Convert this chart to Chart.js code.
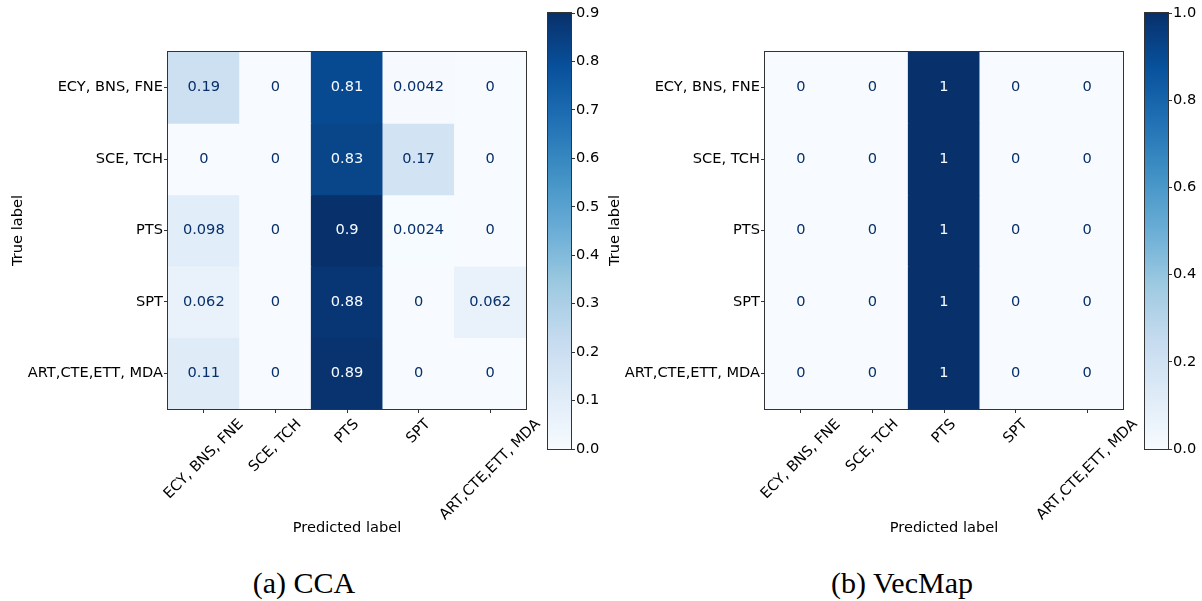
<!DOCTYPE html>
<html>
<head>
<meta charset="utf-8">
<script src="https://cdn.jsdelivr.net/npm/chart.js@4/dist/chart.umd.min.js"></script>
<style>
  html, body { margin: 0; padding: 0; background: #fff; }
  #fig { position: relative; width: 1202px; height: 601px; overflow: hidden; background: #fff; }
  #fig canvas { position: absolute; top: 0; }
  .cap {
    position: absolute; top: 568px; line-height: 30px; font-size: 30px;
    font-family: 'Liberation Serif', 'DejaVu Serif', serif; color: #000;
    transform: translateX(-50%); white-space: nowrap;
  }
</style>
</head>
<body>
<div id="fig">
  <canvas id="cmCca" width="560" height="545" style="left:0px"></canvas>
  <canvas id="cbCca" width="62" height="470" style="left:540px"></canvas>
  <canvas id="cmVecmap" width="560" height="545" style="left:597px"></canvas>
  <canvas id="cbVecmap" width="62" height="470" style="left:1137px"></canvas>
  <div class="cap" style="left:304px">(a) CCA</div>
  <div class="cap" style="left:902px">(b) VecMap</div>
</div>
<script>
// Class labels (same order on both axes)
const predictedLabels = ['ECY, BNS, FNE', 'SCE, TCH', 'PTS', 'SPT', 'ART,CTE,ETT, MDA'];
const trueLabels = ['ECY, BNS, FNE', 'SCE, TCH', 'PTS', 'SPT', 'ART,CTE,ETT, MDA'];

// CCA: normalised confusion matrix, one row per true label
const ccaEcyBnsFne    = [0.19, 0, 0.81, 0.0042, 0];
const ccaSceTch       = [0, 0, 0.83, 0.17, 0];
const ccaPts          = [0.098, 0, 0.9, 0.0024, 0];
const ccaSpt          = [0.062, 0, 0.88, 0, 0.062];
const ccaArtCteEttMda = [0.11, 0, 0.89, 0, 0];

// VecMap: normalised confusion matrix, one row per true label
const vecmapEcyBnsFne    = [0, 0, 1, 0, 0];
const vecmapSceTch       = [0, 0, 1, 0, 0];
const vecmapPts          = [0, 0, 1, 0, 0];
const vecmapSpt          = [0, 0, 1, 0, 0];
const vecmapArtCteEttMda = [0, 0, 1, 0, 0];

// Colorbar tick values
const ccaColorbarTicks = [0.0, 0.1, 0.2, 0.3, 0.4, 0.5, 0.6, 0.7, 0.8, 0.9];
const vecmapColorbarTicks = [0.0, 0.2, 0.4, 0.6, 0.8, 1.0];

// "Blues" sequential colour map
const BLUES = ['#f7fbff', '#deebf7', '#c6dbef', '#9ecae1', '#6baed6', '#4292c6', '#2171b5', '#08519c', '#08306b'];
function hexToRgb(h) { return [1, 3, 5].map(i => parseInt(h.slice(i, i + 2), 16)); }
function blues(t) {
  t = Math.max(0, Math.min(1, t));
  const pos = t * (BLUES.length - 1);
  const i = Math.min(Math.floor(pos), BLUES.length - 2);
  const f = pos - i;
  const a = hexToRgb(BLUES[i]), b = hexToRgb(BLUES[i + 1]);
  const c = a.map((v, k) => Math.round(v + (b[k] - v) * f));
  return `rgb(${c[0]},${c[1]},${c[2]})`;
}

// two significant digits, trailing zeros dropped
function fmt(v) { return String(Number(v.toPrecision(2))); }

const FONT_SIZE = 14.6;
const FONT = { family: "'DejaVu Sans', sans-serif", size: FONT_SIZE };
const FONT_CSS = FONT_SIZE + "px 'DejaVu Sans', sans-serif";
const AXIS_COLOR = '#333';

// Outline around the plotting area
const framePlugin = {
  id: 'frame',
  afterDraw(chart) {
    const { ctx, chartArea: a } = chart;
    ctx.save();
    ctx.strokeStyle = AXIS_COLOR;
    ctx.lineWidth = 1;
    ctx.strokeRect(a.left - 0.5, a.top - 0.5, a.right - a.left + 1, a.bottom - a.top + 1);
    ctx.restore();
  }
};

// Value printed in the middle of every cell
const cellValuesPlugin = {
  id: 'cellValues',
  afterDatasetsDraw(chart, args, opts) {
    const ctx = chart.ctx;
    ctx.save();
    ctx.font = FONT_CSS;
    ctx.textAlign = 'center';
    ctx.textBaseline = 'middle';
    chart.data.datasets.forEach((ds, di) => {
      chart.getDatasetMeta(di).data.forEach((el, j) => {
        const v = ds.cellValues[j];
        const { x, y } = el.getCenterPoint();
        ctx.fillStyle = v > opts.threshold ? BLUES[0] : BLUES[BLUES.length - 1];
        ctx.fillText(fmt(v), x, y);
      });
    });
    ctx.restore();
  }
};

// Category labels under the x axis, rotated 45° and centred on their tick
const rotatedLabelsPlugin = {
  id: 'rotatedLabels',
  afterDraw(chart) {
    const sx = chart.scales.x;
    const ctx = chart.ctx;
    const h = 17;
    ctx.save();
    ctx.font = FONT_CSS;
    ctx.fillStyle = '#000';
    ctx.textAlign = 'center';
    ctx.textBaseline = 'middle';
    sx.ticks.forEach((t, i) => {
      const label = sx.getLabelForValue(t.value);
      const w = ctx.measureText(label).width;
      const side = (w + h) * Math.SQRT1_2;
      const x = sx.getPixelForTick(i);
      const y = sx.top + 4 + 3 + side / 2;
      ctx.save();
      ctx.translate(x, y);
      ctx.rotate(-Math.PI / 4);
      ctx.fillText(label, 0, 0);
      ctx.restore();
    });
    ctx.restore();
  }
};

function drawMatrix(canvasId, rows) {
  const all = rows.flat();
  const vmin = Math.min(...all), vmax = Math.max(...all);
  const datasets = rows.map((row, r) => ({
    label: trueLabels[r],
    data: row.map(() => [r - 0.5, r + 0.5]),
    cellValues: row,
    backgroundColor: row.map(v => blues((v - vmin) / (vmax - vmin))),
    borderWidth: 0,
    barPercentage: 1,
    categoryPercentage: 1,
    grouped: false
  }));
  new Chart(document.getElementById(canvasId), {
    type: 'bar',
    data: { labels: predictedLabels, datasets },
    plugins: [cellValuesPlugin, rotatedLabelsPlugin, framePlugin],
    options: {
      responsive: false,
      animation: false,
      layout: { padding: { top: 52, right: 34, left: 0, bottom: 0 } },
      plugins: {
        legend: { display: false },
        tooltip: { enabled: false },
        cellValues: { threshold: (vmin + vmax) / 2 }
      },
      scales: {
        x: {
          type: 'category',
          offset: true,
          grid: { offset: false, drawOnChartArea: false, drawTicks: true, tickLength: 4, color: AXIS_COLOR },
          border: { display: false },
          ticks: { display: false },
          title: { display: true, text: 'Predicted label', font: FONT, color: '#000', padding: { top: 0, bottom: 8 } },
          afterFit: s => { s.height = 136; }
        },
        y: {
          type: 'linear',
          reverse: true,
          min: -0.5,
          max: 4.5,
          afterBuildTicks: s => { s.ticks = trueLabels.map((_, i) => ({ value: i })); },
          ticks: { callback: v => trueLabels[v], font: FONT, color: '#000', padding: 1, autoSkip: false },
          grid: { drawOnChartArea: false, drawTicks: true, tickLength: 4, color: AXIS_COLOR },
          border: { display: false },
          title: { display: true, text: 'True label', font: FONT, color: '#000', padding: { top: 9, bottom: 0 } },
          afterFit: s => { s.width = 168; }
        }
      }
    }
  });
  return { vmin, vmax };
}

function drawColorbar(canvasId, range, tickValues) {
  new Chart(document.getElementById(canvasId), {
    type: 'bar',
    data: {
      labels: [''],
      datasets: [{
        data: [[range.vmin, range.vmax]],
        backgroundColor: (c) => {
          const area = c.chart.chartArea;
          if (!area) return BLUES[4];
          const g = c.chart.ctx.createLinearGradient(0, area.bottom, 0, area.top);
          BLUES.forEach((col, i) => g.addColorStop(i / (BLUES.length - 1), col));
          return g;
        },
        borderWidth: 0,
        barPercentage: 1,
        categoryPercentage: 1
      }]
    },
    plugins: [framePlugin],
    options: {
      responsive: false,
      animation: false,
      layout: { padding: { left: 8, top: 13, bottom: 21, right: 0 } },
      plugins: { legend: { display: false }, tooltip: { enabled: false } },
      scales: {
        x: { display: false },
        y: {
          position: 'right',
          min: range.vmin,
          max: range.vmax,
          afterBuildTicks: s => { s.ticks = tickValues.map(v => ({ value: v })); },
          ticks: { callback: v => v.toFixed(1), font: FONT, color: '#000', padding: 1 },
          grid: { drawOnChartArea: false, drawTicks: true, tickLength: 4, color: AXIS_COLOR },
          border: { display: false },
          afterFit: s => { s.width = 31; }
        }
      }
    }
  });
}

const ccaRange = drawMatrix('cmCca', [ccaEcyBnsFne, ccaSceTch, ccaPts, ccaSpt, ccaArtCteEttMda]);
drawColorbar('cbCca', ccaRange, ccaColorbarTicks);

const vecmapRange = drawMatrix('cmVecmap', [vecmapEcyBnsFne, vecmapSceTch, vecmapPts, vecmapSpt, vecmapArtCteEttMda]);
drawColorbar('cbVecmap', vecmapRange, vecmapColorbarTicks);
</script>
</body>
</html>
